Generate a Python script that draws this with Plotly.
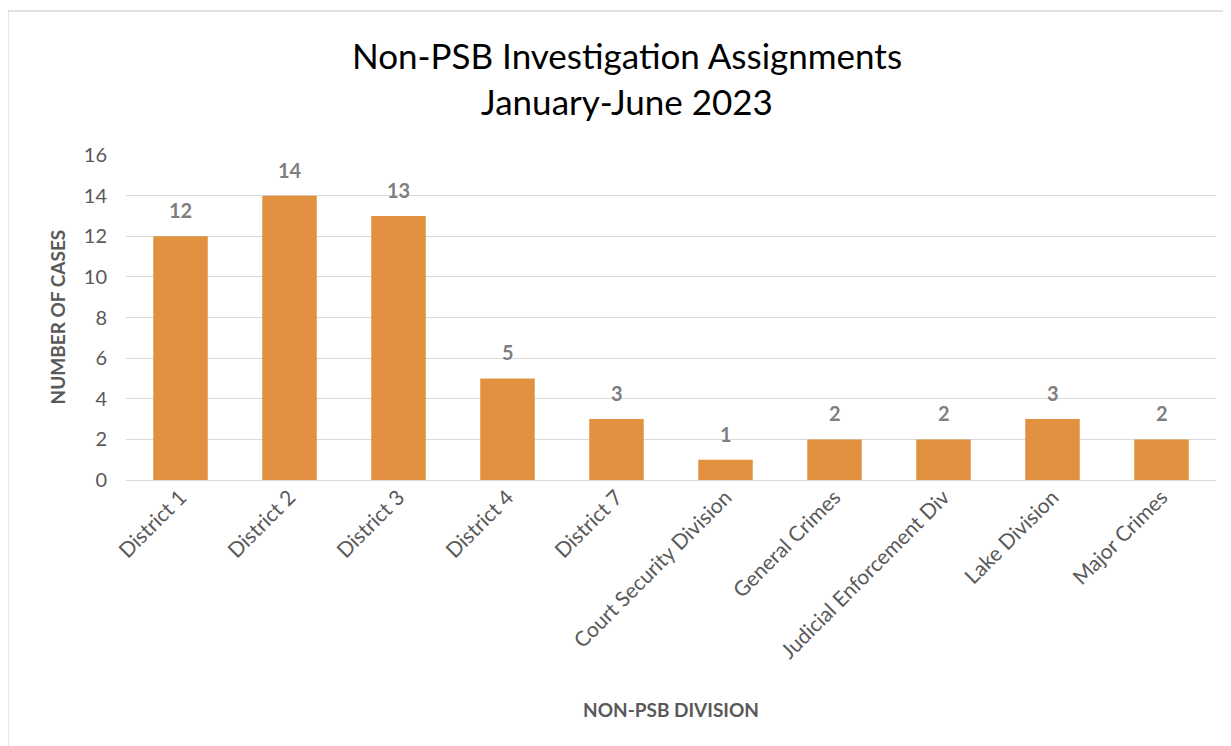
import plotly.graph_objects as go

categories = ["District 1", "District 2", "District 3", "District 4", "District 7",
              "Court Security Division", "General Crimes", "Judicial Enforcement Div",
              "Lake Division", "Major Crimes"]
cases = [12, 14, 13, 5, 3, 1, 2, 2, 3, 2]
y_ticks = [0, 2, 4, 6, 8, 10, 12, 14, 16]

FONT = "Lato, 'Open Sans', sans-serif"
GRAY = "#595959"
OFF = 8  # page body margin

W, H = 1231 - OFF, 746 - OFF
L = 126 - OFF
T = 155 - OFF
R = W - (1216 - OFF)
B = H - (480 - OFF)
pw, ph = W - L - R, H - T - B

def px(x):
    return (x - OFF - L) / pw

def py(y):
    return (H - B - (y - OFF)) / ph

fig = go.Figure()
fig.add_trace(go.Bar(
    x=categories, y=cases,
    marker=dict(color="#E1913F", line=dict(width=0)),
))

annotations = [
    dict(x=c, y=v, text=f"<b>{v}</b>", xref="x", yref="y", showarrow=False,
         xanchor="center", yanchor="middle", yshift=26,
         font=dict(family=FONT, size=20, color="#7F7F7F"))
    for c, v in zip(categories, cases)
]
annotations += [
    dict(text="<b>NUMBER OF CASES</b>", textangle=-90, x=px(57), y=0.5,
         xref="paper", yref="paper", showarrow=False,
         xanchor="center", yanchor="middle",
         font=dict(family=FONT, size=19, color=GRAY)),
    dict(text="<b>NON-PSB DIVISION</b>", x=px(671), y=py(709),
         xref="paper", yref="paper", showarrow=False,
         xanchor="center", yanchor="middle",
         font=dict(family=FONT, size=19, color=GRAY)),
]

fig.update_layout(
    width=W, height=H,
    margin=dict(l=L, r=R, t=T, b=B),
    paper_bgcolor="white", plot_bgcolor="white",
    bargap=0.5, showlegend=False,
    title=dict(text="Non-PSB Investigation Assignments<br>January-June 2023",
               x=(627 - OFF) / W, xanchor="center", xref="container",
               y=1 - (69 - OFF) / H, yanchor="top", yref="container",
               font=dict(family=FONT, size=35, color="#000000")),
    font=dict(family=FONT, color=GRAY),
    xaxis=dict(tickangle=-45, tickfont=dict(size=21, color=GRAY), showgrid=False,
               showline=False, ticks="", automargin=False),
    yaxis=dict(range=[0, 16], tickvals=y_ticks, tickfont=dict(size=20, color=GRAY),
               showgrid=True, gridcolor="#D9D9D9", gridwidth=1.3, zeroline=True,
               zerolinecolor="#D9D9D9", zerolinewidth=1.3, ticks="", ticklen=0,
               automargin=False, showline=False, ticklabelstandoff=18),
    annotations=annotations,
    shapes=[
        dict(type="rect", xref="paper", yref="paper",
             x0=px(8), x1=px(1250), y0=py(770), y1=py(11),
             line=dict(color="#D9D9D9", width=1.3), layer="below"),
    ],
)

fig.write_html("out.html")
